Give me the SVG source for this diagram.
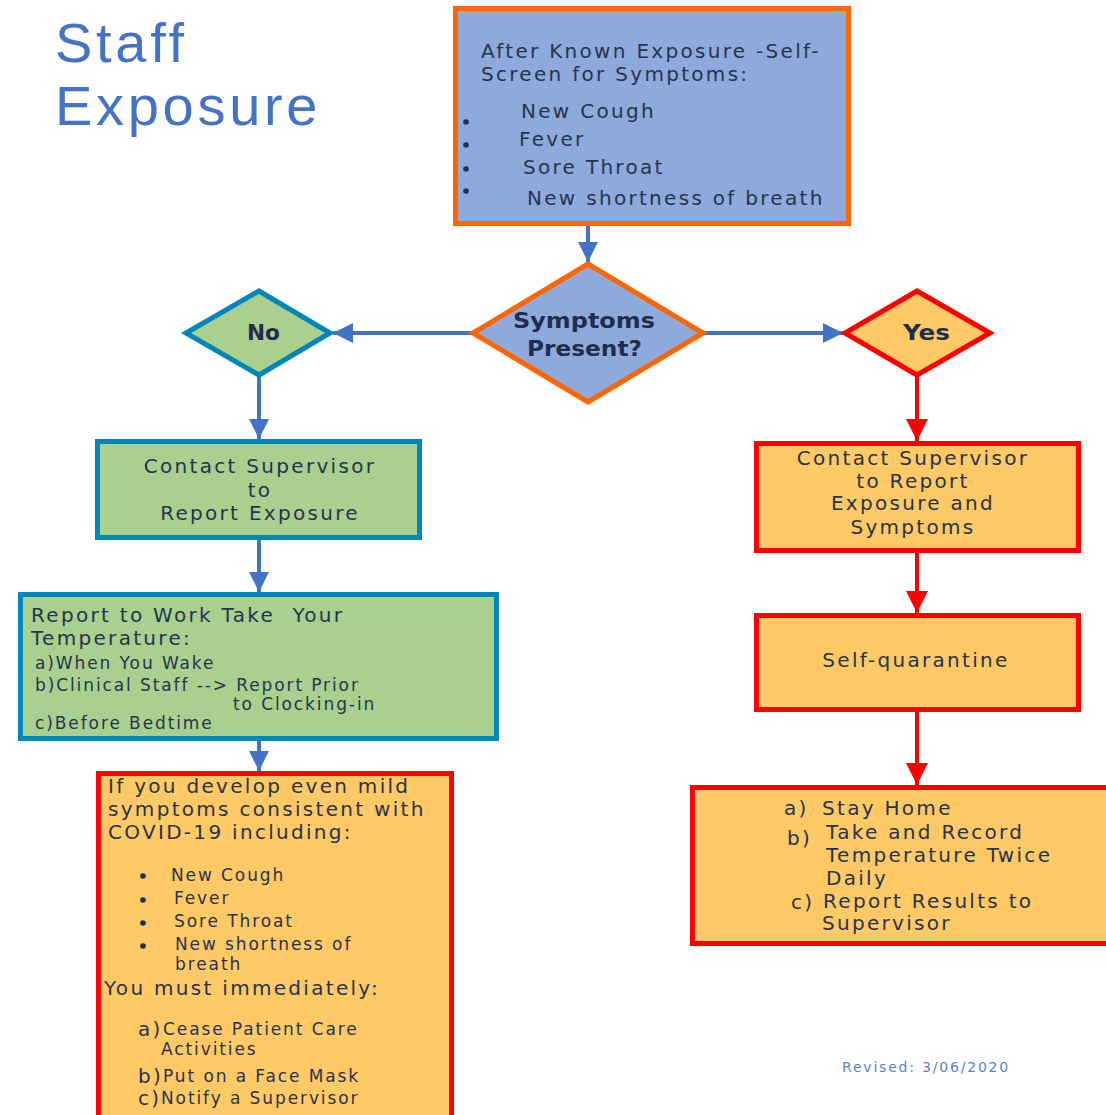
<svg xmlns="http://www.w3.org/2000/svg" width="1106" height="1115" viewBox="0 0 1106 1115">
<defs>
<marker id="ab" viewBox="0 0 20 20" refX="20" refY="10" markerWidth="20" markerHeight="20" markerUnits="userSpaceOnUse" orient="auto"><path d="M0,0 L20,10 L0,20 Z" fill="#4472C4"/></marker>
<marker id="ar" viewBox="0 0 20 20" refX="20" refY="10" markerWidth="22" markerHeight="22" markerUnits="userSpaceOnUse" orient="auto"><path d="M0,0 L20,10 L0,20 Z" fill="#FF0000"/></marker>
</defs>
<style>
.t{font-family:"DejaVu Sans",Verdana,sans-serif;fill:#27344F;font-size:20px;letter-spacing:2.3px}
.s{font-size:17px;letter-spacing:1.9px}
.b{font-family:"DejaVu Sans",Verdana,sans-serif;font-weight:bold;font-size:21px;fill:#1F2D4F}
.h{font-family:"Liberation Sans",Arial,sans-serif;font-size:56px;letter-spacing:3.7px;fill:#4472C4}
.blue{fill:#8EA9DB;stroke:#FF6600;stroke-width:5}
.green{fill:#A9D08E;stroke:#0086B8;stroke-width:5}
.orange{fill:#FFC966;stroke:#FF0000;stroke-width:5}
.cb{stroke:#4472C4;stroke-width:4;fill:none}
.cr{stroke:#FF0000;stroke-width:4;fill:none}
.dot{fill:#1F2D4F}
</style>
<rect width="1106" height="1115" fill="#FFFFFF"/>
<g id="title">
<text class="h" x="55" y="62">Staff</text>
<text class="h" x="55" y="125">Exposure</text>
</g>
<g id="connectors">
<line class="cb" x1="588" y1="226" x2="588" y2="262" marker-end="url(#ab)"/>
<line class="cb" x1="472" y1="333" x2="333" y2="333" marker-end="url(#ab)"/>
<line class="cb" x1="704" y1="333" x2="843" y2="333" marker-end="url(#ab)"/>
<line class="cb" x1="259" y1="376" x2="259" y2="439" marker-end="url(#ab)"/>
<line class="cb" x1="259" y1="539" x2="259" y2="592" marker-end="url(#ab)"/>
<line class="cb" x1="259" y1="740" x2="259" y2="771" marker-end="url(#ab)"/>
<line class="cr" x1="917" y1="376" x2="917" y2="441" marker-end="url(#ar)"/>
<line class="cr" x1="917" y1="553" x2="917" y2="613" marker-end="url(#ar)"/>
<line class="cr" x1="917" y1="712" x2="917" y2="785" marker-end="url(#ar)"/>
</g>
<g id="screen">
<rect class="blue" x="455.5" y="8.5" width="393" height="215"/>
<text class="t" x="481" y="58">After Known Exposure -Self-</text>
<text class="t" x="481" y="81">Screen for Symptoms:</text>
<circle class="dot" cx="466" cy="122" r="2.8"/>
<circle class="dot" cx="466" cy="145" r="2.8"/>
<circle class="dot" cx="466" cy="169" r="2.8"/>
<circle class="dot" cx="466" cy="191" r="2.8"/>
<text class="t" x="521" y="118">New Cough</text>
<text class="t" x="519" y="146">Fever</text>
<text class="t" x="523" y="174">Sore Throat</text>
<text class="t" x="527" y="205">New shortness of breath</text>
</g>
<g id="symptoms">
<polygon class="blue" points="588,264 703,333 588,402 473,333" stroke-width="4"/>
<text class="b" x="513" y="328" textLength="142" lengthAdjust="spacingAndGlyphs">Symptoms</text>
<text class="b" x="527" y="356" textLength="115" lengthAdjust="spacingAndGlyphs">Present?</text>
</g>
<g id="no">
<polygon class="green" points="259,291 330,333 259,375 186,333"/>
<text class="b" x="247" y="340" textLength="33" lengthAdjust="spacingAndGlyphs">No</text>
</g>
<g id="yes">
<polygon class="orange" points="917,291 990,333 917,375 845,333"/>
<text class="b" x="903" y="340" textLength="47" lengthAdjust="spacingAndGlyphs">Yes</text>
</g>
<g id="contact-no">
<rect class="green" x="97.5" y="441.5" width="322" height="96"/>
<text class="t" x="260" y="473" text-anchor="middle">Contact Supervisor</text>
<text class="t" x="260" y="497" text-anchor="middle">to</text>
<text class="t" x="260" y="520" text-anchor="middle">Report Exposure</text>
</g>
<g id="report-work">
<rect class="green" x="20.5" y="594.5" width="476" height="144"/>
<text class="t" x="31" y="622" xml:space="preserve" letter-spacing="2.6">Report to Work Take  Your</text>
<text class="t" x="31" y="645">Temperature:</text>
<text class="t s" x="35" y="669">a)When You Wake</text>
<text class="t s" x="35" y="691">b)Clinical Staff --&gt; Report Prior</text>
<text class="t s" x="233" y="710">to Clocking-in</text>
<text class="t s" x="35" y="729">c)Before Bedtime</text>
</g>
<g id="mild">
<rect class="orange" x="98.5" y="773.5" width="353" height="350"/>
<text class="t" x="108" y="793">If you develop even mild</text>
<text class="t" x="108" y="816">symptoms consistent with</text>
<text class="t" x="108" y="839">COVID-19 including:</text>
<circle class="dot" cx="143" cy="876" r="2.8"/>
<circle class="dot" cx="143" cy="900" r="2.8"/>
<circle class="dot" cx="143" cy="923" r="2.8"/>
<circle class="dot" cx="143" cy="946" r="2.8"/>
<text class="t s" x="171" y="881">New Cough</text>
<text class="t s" x="174" y="904">Fever</text>
<text class="t s" x="174" y="927">Sore Throat</text>
<text class="t s" x="175" y="950">New shortness of</text>
<text class="t s" x="175" y="970">breath</text>
<text class="t" x="104" y="995">You must immediately:</text>
<text class="t" x="138" y="1036" letter-spacing="0">a)</text>
<text class="t s" x="163" y="1035">Cease Patient Care</text>
<text class="t s" x="161" y="1055">Activities</text>
<text class="t" x="138" y="1083" letter-spacing="0">b)</text>
<text class="t s" x="163" y="1082">Put on a Face Mask</text>
<text class="t" x="138" y="1105" letter-spacing="0">c)</text>
<text class="t s" x="161" y="1104">Notify a Supervisor</text>
</g>
<g id="contact-yes">
<rect class="orange" x="756.5" y="443.5" width="322" height="107"/>
<text class="t" x="913" y="465" text-anchor="middle">Contact Supervisor</text>
<text class="t" x="913" y="488" text-anchor="middle">to Report</text>
<text class="t" x="913" y="510" text-anchor="middle">Exposure and</text>
<text class="t" x="913" y="534" text-anchor="middle">Symptoms</text>
</g>
<g id="quarantine">
<rect class="orange" x="756.5" y="615.5" width="322" height="94"/>
<text class="t" x="916" y="667" text-anchor="middle">Self-quarantine</text>
</g>
<g id="home">
<rect class="orange" x="692.5" y="787.5" width="420" height="156"/>
<text class="t" x="784" y="815">a)</text>
<text class="t" x="822" y="815">Stay Home</text>
<text class="t" x="787" y="845">b)</text>
<text class="t" x="826" y="839">Take and Record</text>
<text class="t" x="826" y="862">Temperature Twice</text>
<text class="t" x="826" y="885">Daily</text>
<text class="t" x="791" y="909">c)</text>
<text class="t" x="823" y="908">Report Results to</text>
<text class="t" x="822" y="930">Supervisor</text>
</g>
<g id="revised">
<text x="842" y="1072" font-family="'DejaVu Sans',Verdana,sans-serif" font-size="14" letter-spacing="1.8" fill="#5B7FCF">Revised: 3/06/2020</text>
</g>
</svg>
